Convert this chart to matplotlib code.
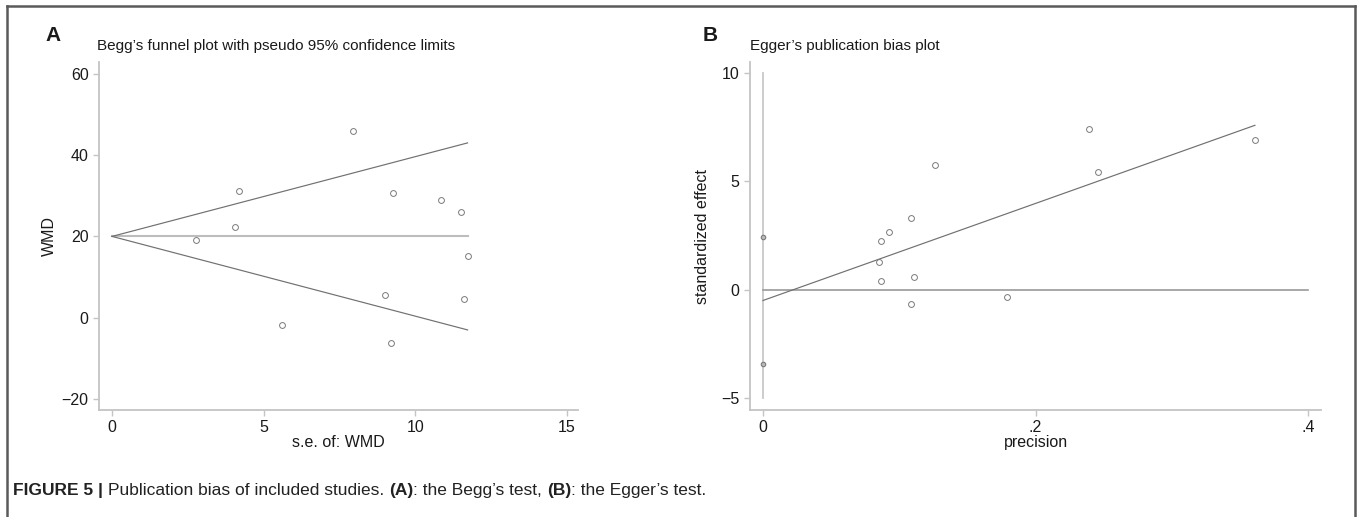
import matplotlib
matplotlib.use("Agg")
import matplotlib.pyplot as plt
from matplotlib import font_manager
from matplotlib.lines import Line2D

# ---------------- data ----------------
# Panel A: Begg's funnel plot
se_wmd = [2.77, 4.06, 4.18, 5.59, 7.94, 8.99, 9.21, 9.25, 10.84, 11.50, 11.59, 11.72]
wmd = [19.2, 22.2, 31.2, -1.9, 46.0, 5.5, -6.1, 30.7, 29.0, 26.0, 4.65, 15.1]
funnel_se = [0, 11.72]
funnel_upper = [20, 43.0]
funnel_lower = [20, -3.0]
funnel_pooled = [20, 20]
xticks_A = [0, 5, 10, 15]
xticklabels_A = ["0", "5", "10", "15"]
yticks_A = [-20, 0, 20, 40, 60]
yticklabels_A = ["\u221220", "0", "20", "40", "60"]

# Panel B: Egger's publication bias plot
precision = [0.361, 0.239, 0.2456, 0.126, 0.1083, 0.0925, 0.0867, 0.0854, 0.0864, 0.1112, 0.1087, 0.1789]
std_effect = [6.91, 7.43, 5.43, 5.77, 3.29, 2.65, 2.23, 1.29, 0.40, 0.60, -0.66, -0.34]
egger_x = [0, 0.361]
egger_y = [-0.5, 7.58]
ci_x = [0, 0]
ci_y = [2.42, -3.42]
vref_y = [-5, 10]
href_x = [0, 0.4]
xticks_B = [0, 0.2, 0.4]
xticklabels_B = ["0", ".2", ".4"]
yticks_B = [-5, 0, 5, 10]
yticklabels_B = ["\u22125", "0", "5", "10"]

# ---------------- fonts ----------------
avail = {f.name for f in font_manager.fontManager.ttflist}
fam = "Liberation Sans Narrow" if "Liberation Sans Narrow" in avail else "Liberation Sans"
plt.rcParams["font.family"] = [fam, "DejaVu Sans"]

W, H = 1358, 517
fig = plt.figure(figsize=(W / 100, H / 100), dpi=100)

def px_axes(left, top, right, bottom):
    return fig.add_axes([left / W, 1 - bottom / H, (right - left) / W, (bottom - top) / H])

AXC = "#c4c4c4"
LINEC = "#707070"
MARKC = "#7a7a7a"
TXT = "#1a1a1a"

def style(ax):
    for s in ("top", "right"):
        ax.spines[s].set_visible(False)
    for s in ("left", "bottom"):
        ax.spines[s].set_color(AXC)
        ax.spines[s].set_linewidth(1.3)
    ax.tick_params(axis="both", direction="out", length=4.5, width=1.0,
                   color=AXC, labelcolor=TXT, labelsize=11.5, pad=3)
    ax.patch.set_alpha(0)

# Panel A
axA = px_axes(99, 62, 578, 410)
style(axA)
axA.plot(funnel_se, funnel_pooled, color="#bdbdbd", lw=1.5, zorder=1)
axA.plot(funnel_se, funnel_upper, color=LINEC, lw=0.85, zorder=2)
axA.plot(funnel_se, funnel_lower, color=LINEC, lw=0.85, zorder=2)
axA.plot(se_wmd, wmd, linestyle="none", marker="o", markersize=4.2,
         markerfacecolor="none", markeredgecolor=MARKC, markeredgewidth=0.7, zorder=3)
axA.set_xlim(-0.43, 15.36)
axA.set_ylim(-22.7, 62.9)
axA.set_xticks(xticks_A)
axA.set_xticklabels(xticklabels_A)
axA.set_yticks(yticks_A)
axA.set_yticklabels(yticklabels_A)
axA.set_xlabel("s.e. of: WMD", fontsize=11.5, color=TXT, labelpad=0)
axA.set_ylabel("WMD", fontsize=11.5, color=TXT, labelpad=3)

# Panel B
axB = px_axes(750, 62, 1321, 410)
style(axB)
axB.plot([0, 0], vref_y, color="#c8c8c8", lw=1.3, zorder=1)
axB.plot(href_x, [0, 0], color="#9a9a9a", lw=1.2, zorder=1)
axB.plot(egger_x, egger_y, color=LINEC, lw=0.85, zorder=2)
axB.plot(precision, std_effect, linestyle="none", marker="o", markersize=4.2,
         markerfacecolor="none", markeredgecolor=MARKC, markeredgewidth=0.7, zorder=3)
axB.plot(ci_x, ci_y, linestyle="none", marker="o", markersize=3.2,
         markerfacecolor="#bbbbbb", markeredgecolor=MARKC, markeredgewidth=0.8, zorder=3)
axB.set_xlim(-0.0095, 0.4095)
axB.set_ylim(-5.55, 10.5)
axB.set_xticks(xticks_B)
axB.set_xticklabels(xticklabels_B)
axB.set_yticks(yticks_B)
axB.set_yticklabels(yticklabels_B)
axB.set_xlabel("precision", fontsize=11.5, color=TXT, labelpad=0)
axB.set_ylabel("standardized effect", fontsize=11.5, color=TXT, labelpad=8)

# Panel letters and titles
fig.text(45 / W, 1 - 41 / H, "A", fontsize=15, fontweight="bold", color=TXT,
         family=["Liberation Sans", "DejaVu Sans"])
fig.text(703 / W, 1 - 41 / H, "B", fontsize=15, fontweight="bold", color=TXT,
         family=["Liberation Sans", "DejaVu Sans"])
fig.text(97 / W, 1 - 50 / H, "Begg\u2019s funnel plot with pseudo 95% confidence limits",
         fontsize=11, color=TXT)
fig.text(750 / W, 1 - 50 / H, "Egger\u2019s publication bias plot", fontsize=11, color=TXT)

# Caption
cap_y = 1 - 495 / H
t1 = fig.text(13 / W, cap_y, "FIGURE 5 | ", fontsize=12.5, fontweight="bold", color="#222222")
fig.canvas.draw()
r = fig.canvas.get_renderer()

def after(t):
    bb = t.get_window_extent(renderer=r)
    return bb.x1 / W

parts = [("Publication bias of included studies. ", "normal"), ("(A)", "bold"),
         (": the Begg\u2019s test, ", "normal"), ("(B)", "bold"), (": the Egger\u2019s test.", "normal")]
prev = t1
for s, w in parts:
    prev = fig.text(after(prev), cap_y, s, fontsize=12.5, fontweight=w, color="#222222")

# Outer frame (open at bottom)
fr = dict(color="#5a5a5a", lw=1.8, transform=fig.transFigure)
fig.add_artist(Line2D([7 / W, 7 / W], [0, 1 - 6 / H], **fr))
fig.add_artist(Line2D([7 / W, 1355 / W], [1 - 6 / H, 1 - 6 / H], **fr))
fig.add_artist(Line2D([1355 / W, 1355 / W], [0, 1 - 6 / H], **fr))

fig.savefig("out.png", dpi=100)
